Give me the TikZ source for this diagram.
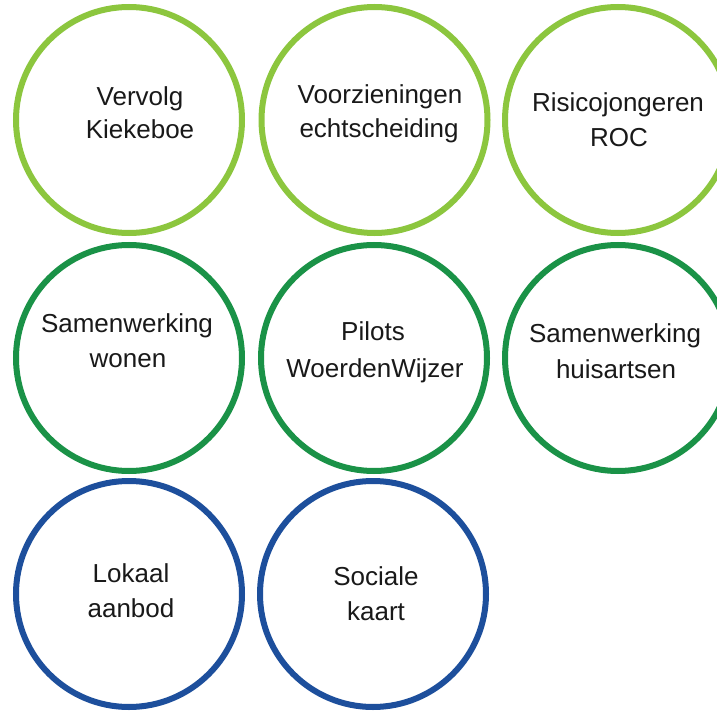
\documentclass[tikz,border=0pt]{standalone}
\usepackage{fontspec}
\setmainfont{Liberation Sans}
\definecolor{lime}{HTML}{8CC63E}
\definecolor{dgreen}{HTML}{1A9247}
\definecolor{dblue}{HTML}{1D4F9C}
\begin{document}
\begin{tikzpicture}[x=1pt,y=-1pt,
  ring/.style={draw=#1,circle,line width=6pt,minimum size=226pt,inner sep=0pt},
  ln/.style={anchor=base,inner sep=0pt,font=\fontsize{26}{31}\selectfont,text=black!90}]
\useasboundingbox (0,0) rectangle (717,711);
\clip (0,0) rectangle (717,711);
\fill[white] (0,0) rectangle (717,711);
% row 1
\node[ring=lime] (c1) at (129,120) {};
\node[ring=lime] (c2) at (374.5,120) {};
\node[ring=lime] (c3) at (618,120) {};
% row 2
\node[ring=dgreen] (c4) at (129,358) {};
\node[ring=dgreen] (c5) at (374,358) {};
\node[ring=dgreen] (c6) at (618,358) {};
% row 3
\node[ring=dblue] (c7) at (129,594) {};
\node[ring=dblue] (c8) at (373,594) {};
% texts
\node[ln] (t1a) at (140,106) {Vervolg};
\node[ln] (t1b) at (140,139) {Kiekeboe};
\node[ln] (t2a) at (380,104) {Voorzieningen};
\node[ln] (t2b) at (379,138) {echtscheiding};
\node[ln] (t3a) at (618,112) {Risicojongeren};
\node[ln] (t3b) at (619,147) {ROC};
\node[ln] (t4a) at (127,332) {Samenwerking};
\node[ln] (t4b) at (128,367) {wonen};
\node[ln] (t5a) at (373,340) {Pilots};
\node[ln] (t5b) at (375,377) {WoerdenWijzer};
\node[ln] (t6a) at (615,342) {Samenwerking};
\node[ln] (t6b) at (616,378) {huisartsen};
\node[ln] (t7a) at (131,582) {Lokaal};
\node[ln] (t7b) at (131,617) {aanbod};
\node[ln] (t8a) at (376,585) {Sociale};
\node[ln] (t8b) at (376,620) {kaart};
\end{tikzpicture}
\end{document}
